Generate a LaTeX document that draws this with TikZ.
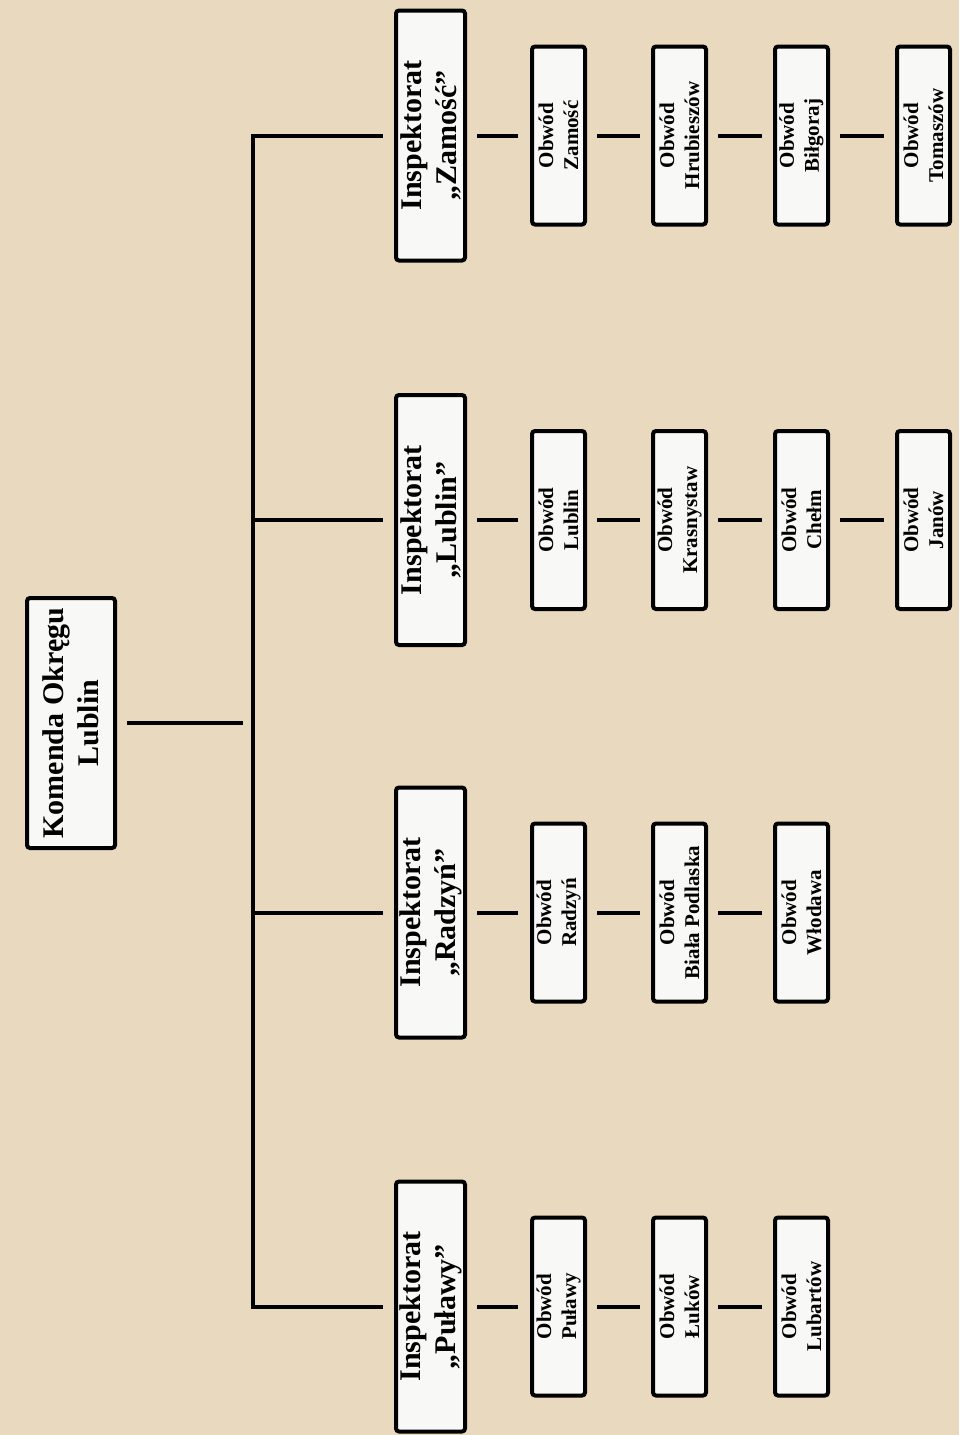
\documentclass[tikz,border=0pt]{standalone}
\usepackage{fontspec}
\setmainfont{Liberation Serif}
\definecolor{bg}{RGB}{233,217,190}
\definecolor{boxfill}{RGB}{248,248,246}
\tikzset{
  box/.style={draw=black, line width=4pt, fill=boxfill, rounded corners=3pt,
    rotate=90, inner sep=0pt, align=center, text=black},
  bigbox/.style={box, font=\fontsize{30}{35}\selectfont\bfseries,
    minimum width=250pt},
  obw/.style={box, font=\fontsize{21}{25}\selectfont\bfseries,
    minimum width=178pt, minimum height=53pt},
  conn/.style={line width=4pt, draw=black},
}
\begin{document}
\begin{tikzpicture}[x=1pt,y=-1pt]
\fill[bg] (0,0) rectangle (959,1435);
\useasboundingbox (0,0) rectangle (959,1435);

% top level
\node[bigbox, minimum height=88pt] (kom) at (71,723) {Komenda Okręgu\\Lublin};

% inspektoraty
\node[bigbox, minimum height=69pt] (insZ) at (430.5,135.5) {Inspektorat\\„Zamość”};
\node[bigbox, minimum height=69pt] (insL) at (430.5,520) {Inspektorat\\„Lublin”};
\node[bigbox, minimum height=69pt] (insR) at (430.5,912.5) {Inspektorat\\„Radzyń”};
\node[bigbox, minimum height=69pt] (insP) at (430.5,1306.5) {Inspektorat\\„Puławy”};

% obwody Zamość
\node[obw] (z1) at (558.5,135.5) {Obwód\\Zamość};
\node[obw] (z2) at (679.5,135.5) {Obwód\\Hrubieszów};
\node[obw] (z3) at (801.5,135.5) {Obwód\\Biłgoraj};
\node[obw] (z4) at (923.5,135.5) {Obwód\\Tomaszów};
% obwody Lublin
\node[obw] (l1) at (558.5,520) {Obwód\\Lublin};
\node[obw] (l2) at (679.5,520) {Obwód\\Krasnystaw};
\node[obw] (l3) at (801.5,520) {Obwód\\Chełm};
\node[obw] (l4) at (923.5,520) {Obwód\\Janów};
% obwody Radzyń
\node[obw] (r1) at (558.5,912.5) {Obwód\\Radzyń};
\node[obw] (r2) at (679.5,912.5) {Obwód\\Biała Podlaska};
\node[obw] (r3) at (801.5,912.5) {Obwód\\Włodawa};
% obwody Puławy
\node[obw] (p1) at (558.5,1306.5) {Obwód\\Puławy};
\node[obw] (p2) at (679.5,1306.5) {Obwód\\Łuków};
\node[obw] (p3) at (801.5,1306.5) {Obwód\\Lubartów};

% bar
\coordinate (barT) at (253,135.5);
\coordinate (barB) at (253,1306.5);
\draw[conn, shorten <=11pt, shorten >=11pt] (insZ.north) -- (barT) -- (barB) -- (insP.north);
\draw[conn, shorten >=11pt] (barT |- insL) -- (insL.north);
\draw[conn, shorten >=11pt] (barT |- insR) -- (insR.north);
\draw[conn, shorten <=10pt, shorten >=10pt] (kom.south) -- (kom.south -| barT);

% inspektorat -> obwód
\foreach \i/\o in {insZ/z1, insL/l1, insR/r1, insP/p1}
  \draw[conn, shorten <=10pt, shorten >=12pt] (\i.south) -- (\o.north);
% obwód -> obwód
\foreach \a/\b in {z1/z2, z2/z3, z3/z4, l1/l2, l2/l3, l3/l4, r1/r2, r2/r3, p1/p2, p2/p3}
  \draw[conn, shorten <=10pt, shorten >=11pt] (\a.south) -- (\b.north);
\end{tikzpicture}
\end{document}
